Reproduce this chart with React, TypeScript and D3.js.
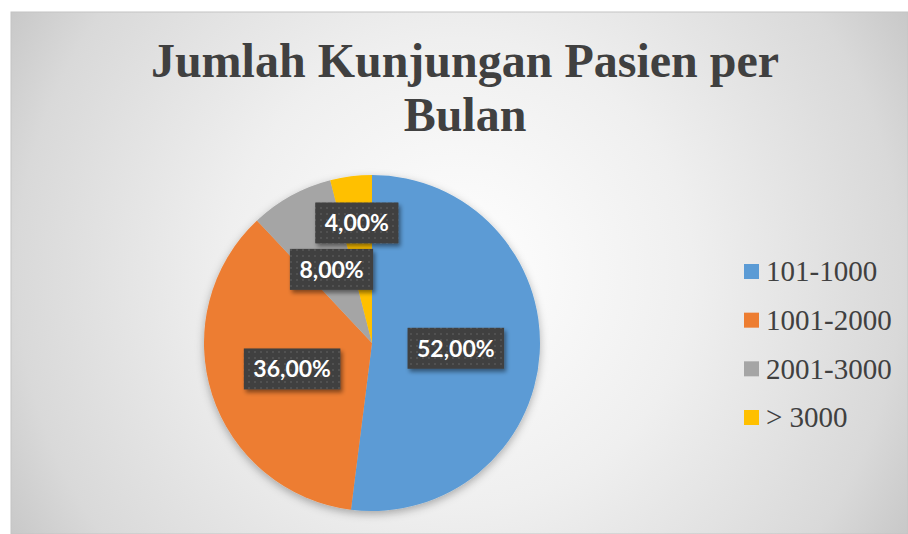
import React from 'react';
import * as d3 from 'd3';

const categories = ['101-1000', '1001-2000', '2001-3000', '> 3000'];
const values = [52, 36, 8, 4];
const labels = ['52,00%', '36,00%', '8,00%', '4,00%'];
const colors = ['#5B9BD5', '#ED7D31', '#A5A5A5', '#FFC000'];
const titleLines = ['Jumlah Kunjungan Pasien per', 'Bulan'];

const W = 908;
const H = 534;
const cx = 372;
const cy = 343;
const R = 168;

function measure(text: string, font: string): number {
  const c = document.createElement('canvas').getContext('2d');
  if (!c) return text.length * 12;
  c.font = font;
  return c.measureText(text).width;
}

export default function App() {
  const arcs = d3.pie<number>().sort(null).value((d) => d)(values);
  const arc = d3.arc<d3.PieArcDatum<number>>().innerRadius(0).outerRadius(R);

  const labelSize = 23;
  const labelFont = `bold ${labelSize}px Lato`;
  const boxH = 41;
  const padX = 9.5;
  const gap = 5;
  const boxes: { x: number; y: number; w: number; h: number }[] = [];
  arcs.forEach((p, i) => {
    const mid = (p.startAngle + p.endAngle) / 2;
    const w = measure(labels[i], labelFont) + 2 * padX;
    let r = R * 0.5;
    let x = Math.sin(mid) * r;
    let y = -Math.cos(mid) * r;
    const overlaps = (xx: number, yy: number) =>
      boxes.some(
        (b) => Math.abs(b.x - xx) < (b.w + w) / 2 + gap && Math.abs(b.y - yy) < (b.h + boxH) / 2 + gap
      );
    while (overlaps(x, y) && r < R * 1.2) {
      r += 1;
      x = Math.sin(mid) * r;
      y = -Math.cos(mid) * r;
    }
    boxes.push({ x, y, w, h: boxH });
  });

  const legendY = d3.scalePoint<string>().domain(categories).range([271.5, 417.5]);

  return (
    <div style={{ position: 'absolute', left: 0, top: 0 }}>
      <svg width={W} height={H} style={{ display: 'block' }}>
        <defs>
          <radialGradient id="bg" gradientUnits="userSpaceOnUse" cx={459} cy={273} r={520}>
            <stop offset="0" stopColor="#ffffff" />
            <stop offset="0.45" stopColor="#efefef" />
            <stop offset="0.85" stopColor="#d9d9d9" />
            <stop offset="1" stopColor="#c8c8c8" />
          </radialGradient>
          <filter id="pieShadow" x="-20%" y="-20%" width="140%" height="140%">
            <feDropShadow dx="0" dy="3" stdDeviation="4" floodColor="#000" floodOpacity="0.3" />
          </filter>
          <filter id="boxShadow" x="-20%" y="-30%" width="150%" height="170%">
            <feDropShadow dx="2" dy="3" stdDeviation="2" floodColor="#000" floodOpacity="0.45" />
          </filter>
          <pattern id="dots" width="6" height="6" patternUnits="userSpaceOnUse">
            <rect width="6" height="6" fill="#404040" />
            <rect x="2" y="2" width="2" height="2" fill="#515151" />
          </pattern>
        </defs>
        <rect x={11} y={12} width={W - 11} height={H - 12} fill="url(#bg)" stroke="#c4c4c4" strokeWidth={1} />

        <g fontFamily="'Liberation Serif', 'Times New Roman', serif" fontWeight="bold" fontSize={48} fill="#404040" textAnchor="middle">
          {titleLines.map((t, i) => (
            <text key={i} x={465} y={77 + i * 54}>
              {t}
            </text>
          ))}
        </g>

        <g transform={`translate(${cx},${cy})`}>
          <g filter="url(#pieShadow)">
            {arcs.map((p, i) => (
              <path key={i} d={arc(p) || ''} fill={colors[i]} />
            ))}
          </g>
          {boxes.map((b, i) => (
            <g key={i}>
              <rect
                x={b.x - b.w / 2}
                y={b.y - b.h / 2}
                width={b.w}
                height={b.h}
                fill="url(#dots)"
                filter="url(#boxShadow)"
              />
              <text
                x={b.x}
                y={b.y}
                dy="0.36em"
                textAnchor="middle"
                fill="#ffffff"
                fontFamily="Lato, 'Open Sans', sans-serif"
                fontWeight="bold"
                fontSize={labelSize}
              >
                {labels[i]}
              </text>
            </g>
          ))}
        </g>

        <g fontFamily="'Liberation Serif', 'Times New Roman', serif" fontSize={29} fill="#404040">
          {categories.map((c, i) => (
            <g key={c} transform={`translate(744,${legendY(c)})`}>
              <rect x={0} y={-7.5} width={15} height={15} fill={colors[i]} />
              <text x={22} y={0} dy="0.34em">
                {c}
              </text>
            </g>
          ))}
        </g>
      </svg>
    </div>
  );
}
